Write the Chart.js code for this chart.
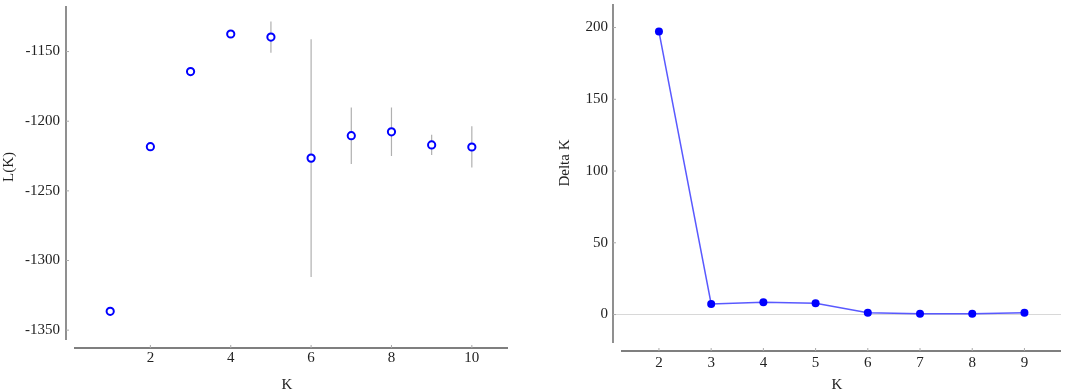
<!DOCTYPE html>
<html>
<head>
<meta charset="utf-8">
<script src="https://cdn.jsdelivr.net/npm/chart.js@4/dist/chart.umd.min.js"></script>
<style>
    body { margin: 0; background: #fff; overflow: hidden; }
    #wrap { position: relative; width: 1065px; height: 391px; }
    .box { position: absolute; top: 0; height: 391px; }
</style>
</head>
<body>
<div id="wrap">
    <div class="box" style="left:0;width:530px"><canvas id="chart1"></canvas></div>
    <div class="box" style="left:540px;width:525px"><canvas id="chart2"></canvas></div>
</div>
<script>
// L(K) panel: mean and sd per K
const kValues = [1, 2, 3, 4, 5, 6, 7, 8, 9, 10];
const meanLK = [-1336.5, -1218.3, -1164.4, -1137.4, -1139.6, -1226.5, -1210.4, -1207.6, -1217.0, -1218.5];
const sdLK = [0.3, 0.3, 0.4, 0.4, 11.2, 85.3, 20.3, 17.4, 7.2, 14.8];
const lkXTicks = [2, 4, 6, 8, 10];
const lkYTicks = [-1350, -1300, -1250, -1200, -1150];

// Delta K panel
const deltaK = [2, 3, 4, 5, 6, 7, 8, 9];
const deltaValues = [197.2, 7.4, 8.5, 7.8, 1.2, 0.5, 0.5, 1.2];
const dkXTicks = [2, 3, 4, 5, 6, 7, 8, 9];
const dkYTicks = [0, 50, 100, 150, 200];

const FONT = "'Liberation Serif', 'Times New Roman', serif";
Chart.defaults.font.family = FONT;
Chart.defaults.font.size = 15;
Chart.defaults.color = '#222';

// Mathematica-like axes: separate x and y lines with a gap, inward ticks
const axesPlugin = {
    id: 'axesLines',
    afterDraw(chart) {
        const { ctx, chartArea } = chart;
        const xs = chart.scales.x, ys = chart.scales.y;
        const gap = 8;
        ctx.save();
        ctx.strokeStyle = '#555';
        ctx.lineWidth = 1.3;
        ctx.beginPath();
        ctx.moveTo(chartArea.left, chartArea.top);
        ctx.lineTo(chartArea.left, chartArea.bottom - gap);
        ctx.moveTo(chartArea.left + gap, chartArea.bottom);
        ctx.lineTo(chartArea.right, chartArea.bottom);
        ctx.stroke();
        ctx.strokeStyle = '#aaa';
        ctx.lineWidth = 1;
        ctx.beginPath();
        xs.ticks.forEach(t => {
            const px = xs.getPixelForValue(t.value);
            ctx.moveTo(px, chartArea.bottom);
            ctx.lineTo(px, chartArea.bottom - 3);
        });
        ys.ticks.forEach(t => {
            const py = ys.getPixelForValue(t.value);
            ctx.moveTo(chartArea.left, py);
            ctx.lineTo(chartArea.left + 3, py);
        });
        ctx.stroke();

        // rotated y title, placed a bit above the middle like the original
        const yt = chart.options.plugins.sideTitle;
        if (yt) {
            ctx.fillStyle = '#222';
            ctx.font = '15px ' + FONT;
            ctx.textAlign = 'center';
            ctx.textBaseline = 'middle';
            ctx.translate(yt.x, yt.y);
            ctx.rotate(-Math.PI / 2);
            ctx.fillText(yt.text, 0, 0);
        }
        ctx.restore();
    }
};

const errorBarPlugin = {
    id: 'errorBars',
    beforeDatasetsDraw(chart) {
        if (!chart.options.plugins.errorBars) return;
        const { ctx } = chart;
        const xs = chart.scales.x, ys = chart.scales.y;
        ctx.save();
        ctx.strokeStyle = '#b0b0b0';
        ctx.lineWidth = 1.2;
        ctx.beginPath();
        kValues.forEach((k, i) => {
            const px = xs.getPixelForValue(k);
            ctx.moveTo(px, ys.getPixelForValue(meanLK[i] + sdLK[i]));
            ctx.lineTo(px, ys.getPixelForValue(meanLK[i] - sdLK[i]));
        });
        ctx.stroke();
        ctx.restore();
    }
};

function fixedTicks(list) {
    return scale => { scale.ticks = list.map(v => ({ value: v })); };
}

function fitX(h) {
    return s => { s.height = h; s.paddingLeft = 0; s.paddingRight = 0; };
}

function fitY(w) {
    return s => { s.width = w; s.paddingTop = 0; s.paddingBottom = 0; };
}

const plainLabel = v => String(v);

function drawLKChart() {
    const ctx = document.getElementById('chart1').getContext('2d');
    new Chart(ctx, {
        type: 'scatter',
        data: {
            datasets: [{
                data: kValues.map((k, i) => ({ x: k, y: meanLK[i] })),
                pointRadius: 3.6,
                pointBorderWidth: 2,
                pointBorderColor: '#0000ff',
                pointBackgroundColor: '#ffffff',
                showLine: false
            }]
        },
        options: {
            responsive: true,
            maintainAspectRatio: false,
            animation: false,
            layout: { padding: { top: 3, right: 22, left: 0, bottom: 0 } },
            plugins: {
                legend: { display: false },
                tooltip: { enabled: false },
                errorBars: true,
                sideTitle: { text: 'L(K)', x: 9, y: 167 }
            },
            scales: {
                x: {
                    type: 'linear', min: -0.1, max: 10.9,
                    afterBuildTicks: fixedTicks(lkXTicks),
                    afterFit: fitX(43),
                    grid: { display: false, drawTicks: false },
                    border: { display: false },
                    ticks: { padding: 1, callback: plainLabel },
                    title: { display: true, text: 'K', padding: { top: 0, bottom: -3 } }
                },
                y: {
                    type: 'linear', min: -1362.8, max: -1117.3,
                    afterBuildTicks: fixedTicks(lkYTicks),
                    afterFit: fitY(66),
                    grid: { display: false, drawTicks: false },
                    border: { display: false },
                    ticks: { padding: 6, callback: plainLabel }
                }
            }
        },
        plugins: [errorBarPlugin, axesPlugin]
    });
}

function drawDeltaKChart() {
    const ctx = document.getElementById('chart2').getContext('2d');
    new Chart(ctx, {
        type: 'scatter',
        data: {
            datasets: [{
                data: deltaK.map((k, i) => ({ x: k, y: deltaValues[i] })),
                showLine: true,
                borderColor: 'rgba(60, 60, 255, 0.85)',
                borderWidth: 1.5,
                pointRadius: 4,
                pointBorderWidth: 0,
                pointBackgroundColor: '#0000ff'
            }]
        },
        options: {
            responsive: true,
            maintainAspectRatio: false,
            animation: false,
            layout: { padding: { top: 3, right: 2, left: 0, bottom: 0 } },
            plugins: {
                legend: { display: false },
                tooltip: { enabled: false },
                sideTitle: { text: 'Delta K', x: 25, y: 163 }
            },
            scales: {
                x: {
                    type: 'linear', min: 1.12, max: 9.7,
                    afterBuildTicks: fixedTicks(dkXTicks),
                    afterFit: fitX(40),
                    grid: { display: false, drawTicks: false },
                    border: { display: false },
                    ticks: { padding: 3, callback: plainLabel },
                    title: { display: true, text: 'K', padding: { top: 0, bottom: -3 } }
                },
                y: {
                    type: 'linear', min: -25.4, max: 216.4,
                    afterBuildTicks: fixedTicks(dkYTicks),
                    afterFit: fitY(73),
                    grid: {
                        drawTicks: false,
                        color: c => (c.tick && c.tick.value === 0 ? '#d8d8d8' : 'rgba(0,0,0,0)'),
                        lineWidth: 1
                    },
                    border: { display: false },
                    ticks: { padding: 5, callback: plainLabel }
                }
            }
        },
        plugins: [axesPlugin]
    });
}

drawLKChart();
drawDeltaKChart();
</script>
</body>
</html>
